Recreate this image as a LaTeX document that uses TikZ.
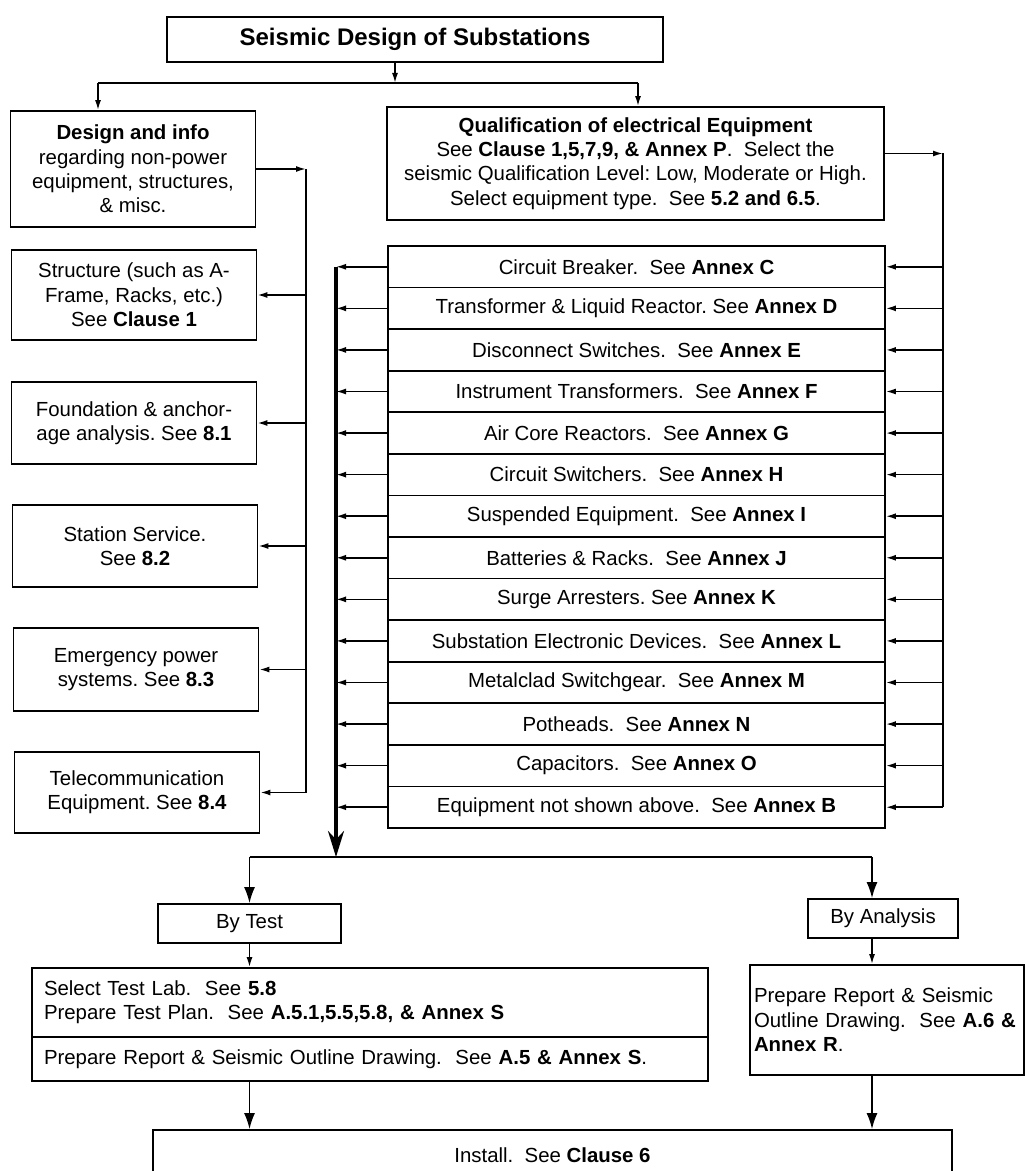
\documentclass[tikz,border=0pt]{standalone}
\usepackage{fontspec}
\setmainfont{Liberation Sans}
\usetikzlibrary{arrows.meta}
\frenchspacing
\tikzset{
  box/.style={draw, line width=0.9pt, inner sep=0pt, align=center,
    font=\fontsize{10.2}{12.2}\selectfont},
  sidebox/.style={box, minimum width=122.5pt},
  rowbox/.style={box, minimum width=248.5pt, minimum height=20.79pt},
  wire/.style={line width=0.8pt},
  tipsmall/.style={wire, -{Latex[length=5pt,width=3pt]}},
  tipmid/.style={wire, -{Latex[length=8pt,width=5.5pt]}},
  trunkline/.style={line width=1.6pt, -{Stealth[length=13pt,width=8pt]}}
}
\begin{document}
\begin{tikzpicture}[x=0.5pt, y=-0.5pt]
  \useasboundingbox (0,0) rectangle (1028,1171);
  \node[box, minimum width=248pt, minimum height=22.5pt,
    font=\fontsize{12}{14}\selectfont\bfseries] (title) at (415,39.5)
    {Seismic Design of Substations};
  \node[sidebox, minimum height=58pt] (design) at (133,169)
    {\textbf{Design and info}\\ regarding non-power\\ equipment, structures,\\ \& misc.};
  \node[box, minimum width=248.5pt, minimum height=56.5pt] (qual) at (635.5,163.5)
    {\textbf{Qualification of electrical Equipment}\\
     See \textbf{Clause 1,5,7,9, \& Annex P}.~ Select the\\
     seismic Qualification Level: Low, Moderate or High.\\
     Select equipment type.~ See \textbf{5.2 and 6.5}.};
  \node[sidebox, minimum height=45pt] (struct) at (134,295)
    {Structure (such as A-\\ Frame, Racks, etc.)\\ See \textbf{Clause 1}};
  \node[sidebox, minimum height=41pt] (found) at (134,423)
    {Foundation \& anchor-\\ age analysis. See \textbf{8.1}};
  \node[sidebox, minimum height=41pt] (station) at (135,546)
    {Station Service.\\ See \textbf{8.2}};
  \node[sidebox, minimum height=41.5pt] (emerg) at (136,669.5)
    {Emergency power\\ systems. See \textbf{8.3}};
  \node[sidebox, minimum height=40.5pt] (telecom) at (137,792.5)
    {Telecommunication\\ Equipment. See \textbf{8.4}};
  \foreach \txt [count=\i] in {
      Circuit Breaker.~ See \textbf{Annex C},
      Transformer \& Liquid Reactor. See \textbf{Annex D},
      Disconnect Switches.~ See \textbf{Annex E},
      Instrument Transformers.~ See \textbf{Annex F},
      Air Core Reactors.~ See \textbf{Annex G},
      Circuit Switchers.~ See \textbf{Annex H},
      Suspended Equipment.~ See \textbf{Annex I},
      Batteries \& Racks.~ See \textbf{Annex J},
      Surge Arresters. See \textbf{Annex K},
      Substation Electronic Devices.~ See \textbf{Annex L},
      Metalclad Switchgear.~ See \textbf{Annex M},
      Potheads.~ See \textbf{Annex N},
      Capacitors.~ See \textbf{Annex O},
      Equipment not shown above.~ See \textbf{Annex B}}
    \node[rowbox] (row\i) at (636.5,{246+41.571*(\i-0.5)}) {\txt};
  \node[box, minimum width=91.5pt, minimum height=19.5pt] (test) at (249.5,923.5) {By Test};
  \node[box, minimum width=75pt, minimum height=19.5pt] (anal) at (883,918.5) {By Analysis};
  \node[box, minimum width=338pt, minimum height=34.5pt, text width=326pt, align=left]
    (testA) at (370,1002.5)
    {Select Test Lab.~ See \textbf{5.8}\\
     Prepare Test Plan.~ See \textbf{A.5.1,5.5,5.8, \& Annex S}};
  \node[box, minimum width=338pt, minimum height=22pt, text width=326pt, align=left]
    (testB) at (370,1059)
    {Prepare Report \& Seismic Outline Drawing.~ See \textbf{A.5 \& Annex S}.};
  \node[box, minimum width=137pt, minimum height=55pt, text width=133pt, align=left]
    (report) at (887,1020)
    {Prepare Report \& Seismic\\ Outline Drawing.~ See \textbf{A.6~\&}\\ \textbf{Annex R}.};
  \node[box, minimum width=399.5pt, minimum height=25pt] (install) at (552.5,1155)
    {Install.~ See \textbf{Clause 6}};
  \coordinate (split) at (395,83);
  \coordinate (topL) at (98,83);
  \coordinate (topR) at (638,83);
  \coordinate (spineL) at (306,169);
  \coordinate (spineR) at (943,153.5);
  \coordinate (trunk) at (336,857);
  \coordinate (forkR) at (872,857);
  \begin{scope}[wire]
    \draw[tipsmall] (title.south -| split) -- (split);
    \draw (topL) -- (topR);
    \draw[tipsmall] (topL) -- (topL |- design.north);
    \draw[tipsmall] (topR) -- (topR |- qual.north);
    \draw[tipsmall] (design.east) -- (spineL);
    \draw (spineL) -- (spineL |- telecom.east);
    \foreach \b in {struct,found,station,emerg,telecom}
      \draw[tipsmall] (spineL |- \b.east) -- (\b.east);
    \draw[tipsmall] ([yshift=5pt]qual.east) -- (spineR);
    \draw (spineR) -- (spineR |- row14.east);
    \foreach \i in {1,...,14} {
      \draw[tipsmall] (spineR |- row\i.east) -- (row\i.east);
      \draw[tipsmall] (row\i.west) -- (row\i.west -| trunk);
    }
    \draw[trunkline] (trunk |- row1.west) -- (trunk);
    \draw (test.north |- trunk) -- (forkR);
    \draw[tipmid] (test.north |- trunk) -- (test.north);
    \draw[tipmid] (forkR) -- (forkR |- anal.north);
    \draw[tipsmall] (test.south) -- (testA.north -| test.south);
    \draw[tipsmall] (anal.south -| forkR) -- (report.north -| forkR);
    \draw[tipmid] (testB.south -| test.south) -- (install.north -| test.south);
    \draw[tipmid] (report.south -| forkR) -- (install.north -| forkR);
  \end{scope}
\end{tikzpicture}
\end{document}
